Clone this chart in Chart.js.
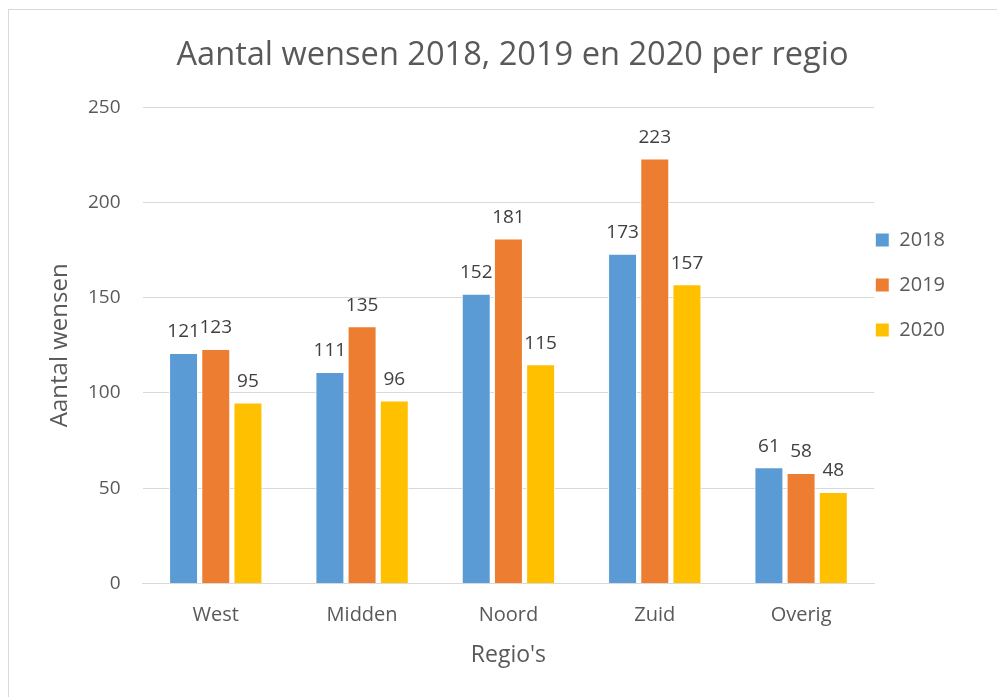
<!DOCTYPE html>
<html>
  <head>
    <title>Aantal wensen per regio</title>
    <script src="https://cdn.jsdelivr.net/npm/chart.js@4.4.1/dist/chart.umd.min.js"></script>
    <style>
    body{
    	margin: 0;
    	overflow: hidden;
    	background-color: white;
    }
    .frame{
    	position: absolute;
    	left: 8px;
    	top: 9px;
    	width: 1000px;
    	height: 700px;
    	border: 1px solid #d9d9d9;
    }
    .container{
    	position: absolute;
    	left: 9px;
    	top: 10px;
    	width: 982px;
    	height: 687px;
    }
  	</style>
  </head>
  <body>

    <div class='frame'></div>
    <div class='container'>
     	<canvas id="wensen"></canvas>
    </div>

  <script type="text/javascript">

  var regios = ["West", "Midden", "Noord", "Zuid", "Overig"];
  var jaren = ["2018", "2019", "2020"];
  var wensen2018 = [121, 111, 152, 173, 61];
  var wensen2019 = [123, 135, 181, 223, 58];
  var wensen2020 = [95, 96, 115, 157, 48];
  var kleuren = ["#5B9BD5", "#ED7D31", "#FFC000"];
  var yTicks = [0, 50, 100, 150, 200, 250];

  var tekstFont = "'Open Sans', sans-serif";

  // labels boven de staven
  var barLabels = {
    id: 'barLabels',
    afterDatasetsDraw: function(chart){
      var ctx = chart.ctx;
      ctx.save();
      ctx.font = '19px ' + tekstFont;
      ctx.fillStyle = '#404040';
      ctx.textAlign = 'center';
      ctx.textBaseline = 'middle';
      chart.data.datasets.forEach(function(ds, i){
        chart.getDatasetMeta(i).data.forEach(function(bar, j){
          ctx.fillText(ds.data[j], bar.x, bar.y - 21);
        });
      });
      ctx.restore();
    }
  };

  // legenda iets naar links en omlaag schuiven (zoals in Excel)
  var legendPlek = {
    id: 'legendPlek',
    afterLayout: function(chart){
      var lg = chart.legend;
      lg.left -= 24; lg.right -= 24;
      lg.top += 195; lg.bottom += 195;
    }
  };

  var sets = [wensen2018, wensen2019, wensen2020].map(function(d, i){
    return {
      label: jaren[i],
      data: d,
      backgroundColor: kleuren[i],
      borderColor: '#ffffff',
      borderWidth: 1,
      barPercentage: 0.9,
      categoryPercentage: 0.66
    };
  });

  var ctx = document.getElementById("wensen").getContext("2d");

  new Chart(ctx, {
    type: 'bar',
    data: { labels: regios, datasets: sets },
    plugins: [barLabels, legendPlek],
    options: {
      responsive: true,
      maintainAspectRatio: false,
      animation: false,
      layout: { padding: { left: 37, right: 12, top: 0, bottom: 28 } },
      plugins: {
        title: {
          display: true,
          text: 'Aantal wensen 2018, 2019 en 2020 per regio',
          color: '#595959',
          font: { family: tekstFont, size: 32.6, weight: 'normal' },
          padding: { top: 26, bottom: 32 }
        },
        legend: {
          position: 'right',
          align: 'start',
          labels: {
            color: '#595959',
            font: { family: tekstFont, size: 20 },
            boxWidth: 14,
            boxHeight: 14,
            padding: 25
          }
        },
        tooltip: { enabled: false }
      },
      scales: {
        x: {
          grid: { display: false },
          border: { color: '#d9d9d9' },
          ticks: { color: '#595959', font: { family: tekstFont, size: 20 }, padding: 12 },
          title: {
            display: true,
            text: "Regio's",
            color: '#595959',
            font: { family: tekstFont, size: 23 },
            padding: { top: 2, bottom: 0 }
          }
        },
        y: {
          min: yTicks[0],
          max: yTicks[yTicks.length - 1],
          grid: { color: '#d9d9d9', drawTicks: false },
          border: { display: false },
          ticks: { stepSize: yTicks[1] - yTicks[0], color: '#595959', font: { family: tekstFont, size: 19 }, padding: 22 },
          title: {
            display: true,
            text: 'Aantal wensen',
            color: '#595959',
            font: { family: tekstFont, size: 24, lineHeight: 0.5 },
            padding: { top: 8, bottom: 0 }
          }
        }
      }
    }
  });

  </script>
  </body>
</html>
